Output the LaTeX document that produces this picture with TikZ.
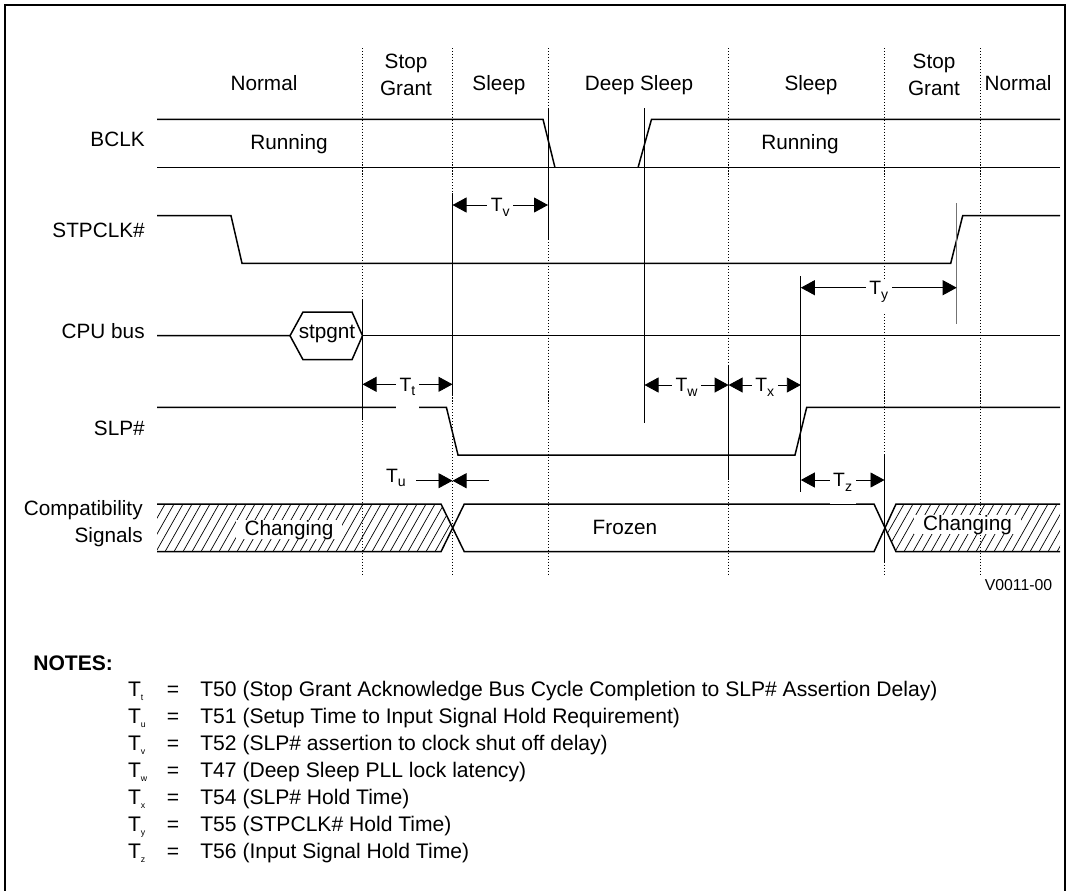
\documentclass[tikz,border=0pt,12pt]{standalone}
\usepackage{fontspec}
\setmainfont{Liberation Sans}
\usetikzlibrary{arrows.meta,positioning}
\newcommand{\Tl}[1]{{\fontsize{11}{13}\selectfont T\raisebox{-2.6pt}{\fontsize{8}{9}\selectfont #1}}}
\newcommand{\Tn}[1]{T\raisebox{-2.5pt}{\fontsize{5}{6}\selectfont #1}}

\begin{document}
\begin{tikzpicture}[x=0.02cm, y=-0.02cm,
    every node/.style={font=\fontsize{11.8}{15.5}\selectfont, inner sep=0pt},
    wave/.style={line width=0.85pt},
    phaseline/.style={line width=0.45pt, dash pattern=on 0.6pt off 1.1pt},
    marker/.style={line width=0.55pt},
    hatch/.style={line width=0.4pt},
    dim/.style={line width=0.5pt, {Triangle[length=0.28cm,width=0.3cm]}-{Triangle[length=0.28cm,width=0.3cm]}},
    halfdim/.style={line width=0.5pt, -{Triangle[length=0.28cm,width=0.3cm]}},
    tlab/.style={fill=white, inner xsep=2pt, inner ysep=0.5pt, text height=0.3cm, text depth=0.33cm, anchor=base, yshift=-0.139cm},
    signame/.style={anchor=base east},
    phase/.style={anchor=base},
    note/.style={anchor=base west, font=\fontsize{12}{14}\selectfont}]
  \useasboundingbox (0,0) rectangle (1067,890);
  \draw[line width=1.1pt] (5,895) -- (5,5) -- (1065,5) -- (1065,895);

  % phase names
  \node[phase] (normal1) at (264,90) {Normal};
  \node[align=center] (stopgrant1) at (406,74.5) {Stop\\Grant};
  \node[phase] (sleep1) at (499,90) {Sleep};
  \node[phase] (deepsleep) at (639,90) {Deep Sleep};
  \node[phase] (sleep2) at (811,90) {Sleep};
  \node[align=center] (stopgrant2) at (934,74.5) {Stop\\Grant};
  \node[phase] (normal2) at (1018,90) {Normal};
  \foreach \bx in {362.5,452.5,548,728.6,884.5,980.5}
    \draw[phaseline] (\bx,48) -- (\bx,575);

  % signal names
  \node[signame] (bclk) at (145,146) {BCLK};
  \node[signame] (stpclk) at (145,237.6) {STPCLK\#};
  \node[signame] (cpubus) at (145,338.3) {CPU bus};
  \node[signame] (slp) at (145,435) {SLP\#};
  \node[anchor=east, align=right] (compat) at (143,523.5) {Compatibility\\Signals};

  % BCLK
  \draw[wave] (157,119.3) -- (543,119.3) -- (555,167.7);
  \draw[wave] (638,167.7) -- (651.5,119.3) -- (1060,119.3);
  \draw[wave] (157,167.7) -- (1060,167.7);
  \node[phase] (run1) at (289,149.5) {Running};
  \node[phase] (run2) at (800,149.5) {Running};

  % STPCLK#
  \draw[wave] (157,215.7) -- (231,215.7) -- (242,263.3) -- (950.7,263.3) -- (962.7,215.7) -- (1060,215.7);

  % CPU bus
  \draw[wave] (157,335.7) -- (290,335.7) -- (303,312) -- (352,312) -- (362.5,335.7) -- (352,359.7) -- (303,359.7) -- (290,335.7);
  \draw[wave] (362.5,335.7) -- (1060,335.7);
  \node[phase] (stpgnt) at (327,338) {stpgnt};

  % SLP#
  \draw[wave] (157,407.3) -- (446.4,407.3) -- (458,455) -- (795,455) -- (806.7,407.3) -- (1060,407.3);

  % compatibility signals
  \begin{scope}
    \clip (157,504) -- (441,504) -- (452.5,528) -- (441,551.7) -- (157,551.7) -- cycle;
    \foreach \h in {120,129,...,460}
      \draw[hatch] (\h,551.7) -- ++(27,-47.7);
  \end{scope}
  \begin{scope}
    \clip (1060,504) -- (896,504) -- (884.5,528) -- (896,551.7) -- (1060,551.7) -- cycle;
    \foreach \h in {850,859,...,1070}
      \draw[hatch] (\h,551.7) -- ++(27,-47.7);
  \end{scope}
  \node[phase, fill=white, inner xsep=5pt] (chg1) at (289,535) {Changing};
  \node[phase, fill=white, inner xsep=5pt] (chg2) at (967.5,530) {Changing};
  \node[phase] (frozen) at (625,534) {Frozen};
  \draw[wave] (157,504) -- (441,504) -- (464.3,551.7) -- (874,551.7) -- (896,504) -- (1060,504);
  \draw[wave] (157,551.7) -- (441,551.7) -- (464.3,504) -- (874,504) -- (896,551.7) -- (1060,551.7);

  % timing markers
  \draw[marker] (362.5,300) -- (362.5,420);
  \draw[marker] (452.5,193) -- (452.5,395);
  \draw[marker] (548,108) -- (548,240);
  \draw[marker] (644.5,108) -- (644.5,423);
  \draw[marker] (728.6,365) -- (728.6,480);
  \draw[marker] (800.8,276) -- (800.8,492);
  \draw[marker] (884.5,455) -- (884.5,563);
  \draw[marker, draw=black!55] (956.7,203) -- (956.7,324);

  \coordinate (v1) at (452.5,205);   \coordinate (v2) at (548,205);
  \coordinate (y1) at (800.8,287.7); \coordinate (y2) at (956.7,287.7);
  \coordinate (t1) at (362.5,384.3); \coordinate (t2) at (452.5,384.3);
  \coordinate (w1) at (644.5,385);   \coordinate (w2) at (728.6,385);
  \coordinate (x2) at (800.8,385);
  \coordinate (u1) at (416,480.7);   \coordinate (u0) at (452.5,480.7);
  \coordinate (u2) at (488.6,480.7);
  \coordinate (z1) at (800.8,480);   \coordinate (z2) at (884.5,480);

  \draw[dim] (v1) -- node[tlab] {\Tl{v}} (v2);
  \draw[dim] (y1) -- node[tlab] {\Tl{y}} (y2);
  \draw[dim] (t1) -- node[tlab] {\Tl{t}} (t2);
  \draw[dim] (w1) -- node[tlab] {\Tl{w}} (w2);
  \draw[dim] (w2) -- node[tlab] {\Tl{x}} (x2);
  \draw[dim] (z1) -- node[tlab] {\Tl{z}} (z2);
  \draw[halfdim] (u1) -- (u0);
  \draw[halfdim] (u2) -- (u0);
  \node[left=0.2cm of u1, yshift=0.06cm] (tu) {\Tl{u}};

  \node[anchor=base east, font=\fontsize{9}{11}\selectfont] (fig) at (1052.6,590) {V0011-00};

  % notes
  \node[note] (notes) at (33,670) {\bfseries NOTES:};
  \foreach \s/\txt [count=\i from 0] in {
      t/T50 (Stop Grant Acknowledge Bus Cycle Completion to SLP\# Assertion Delay),
      u/T51 (Setup Time to Input Signal Hold Requirement),
      v/T52 (SLP\# assertion to clock shut off delay),
      w/T47 (Deep Sleep PLL lock latency),
      x/T54 (SLP\# Hold Time),
      y/T55 (STPCLK\# Hold Time),
      z/T56 (Input Signal Hold Time)} {
    \node[note] (n\s) at (127.7,696.5+27*\i) {\Tn{\s}};
    \node[note, anchor=base] (eq\s) at (173,696.5+27*\i) {=};
    \node[note] (txt\s) at (200,696.5+27*\i) {\txt};
  }
\end{tikzpicture}
\end{document}
